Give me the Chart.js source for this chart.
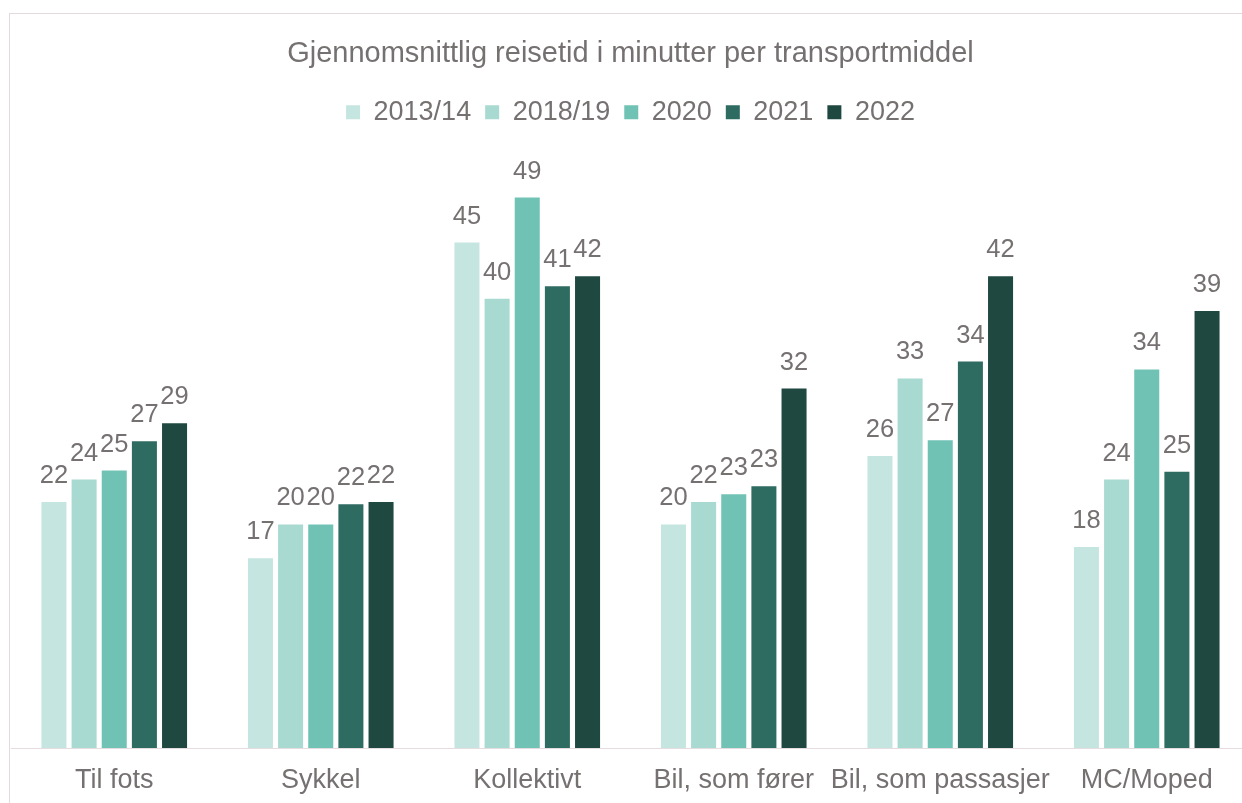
<!DOCTYPE html>
<html>
<head>
<meta charset="utf-8">
<script src="https://cdn.jsdelivr.net/npm/chart.js@4.4.0/dist/chart.umd.min.js"></script>
<style>
  html, body { margin: 0; padding: 0; background: #fff; overflow: hidden; }
  #frame {
    position: absolute; left: 9px; top: 13px;
    width: 1243px; height: 800px;
    border: 1px solid #e4d9dd;
  }
  #chart { display: block; }
</style>
</head>
<body>
<div id="frame"><canvas id="chart" width="1243" height="800"></canvas></div>
<script>
// data
const categories = ["Til fots", "Sykkel", "Kollektivt", "Bil, som fører", "Bil, som passasjer", "MC/Moped"];
const seriesNames = ["2013/14", "2018/19", "2020", "2021", "2022"];
const seriesColors = ["#c5e6e0", "#a8dad2", "#70c3b4", "#2e6b60", "#1f4841"];
const v2013 = [21.9, 16.9, 45.0, 19.9, 26.0, 17.9];
const v2018 = [23.9, 19.9, 40.0, 21.9, 32.9, 23.9];
const v2020 = [24.7, 19.9, 49.0, 22.6, 27.4, 33.7];
const v2021 = [27.3, 21.7, 41.1, 23.3, 34.4, 24.6];
const v2022 = [28.9, 21.9, 42.0, 32.0, 42.0, 38.9];
const seriesValues = [v2013, v2018, v2020, v2021, v2022];

const textColor = "#767171";
const fontFamily = "'Liberation Sans', Arial, sans-serif";

// verdier over søylene
const valueLabels = {
  id: "valueLabels",
  afterDatasetsDraw(chart) {
    const ctx = chart.ctx;
    ctx.save();
    ctx.font = "25.5px " + fontFamily;
    ctx.fillStyle = textColor;
    ctx.textAlign = "center";
    ctx.textBaseline = "alphabetic";
    chart.data.datasets.forEach((ds, i) => {
      const meta = chart.getDatasetMeta(i);
      meta.data.forEach((bar, j) => {
        ctx.fillText(Math.round(ds.data[j]), bar.x, bar.y - 19);
      });
    });
    ctx.restore();
  },
};

new Chart(document.getElementById("chart"), {
  type: "bar",
  data: {
    labels: categories,
    datasets: seriesNames.map((name, i) => ({
      label: name,
      data: seriesValues[i],
      backgroundColor: seriesColors[i],
      categoryPercentage: 0.73,
      barPercentage: 0.83,
    })),
  },
  options: {
    responsive: false,
    animation: false,
    layout: { padding: { left: 1, right: 3, top: 0, bottom: 0 } },
    plugins: {
      title: {
        display: true,
        text: "Gjennomsnittlig reisetid i minutter per transportmiddel",
        color: textColor,
        font: { family: fontFamily, size: 29, weight: "normal" },
        padding: { top: 23, bottom: 13 },
      },
      legend: {
        display: true,
        position: "top",
        labels: {
          color: textColor,
          font: { family: fontFamily, size: 27 },
          boxWidth: 14,
          boxHeight: 14,
          padding: 14,
        },
      },
      tooltip: { enabled: false },
    },
    scales: {
      x: {
        grid: { display: false, drawTicks: false },
        border: { color: "#e6dbdf", width: 1 },
        ticks: {
          color: textColor,
          font: { family: fontFamily, size: 27 },
          padding: 16,
          maxRotation: 0,
          autoSkip: false,
        },
        afterFit: (scale) => {
          scale.height = 66;
        },
      },
      y: {
        display: false,
        min: 0,
        max: 54.5,
      },
    },
  },
  plugins: [valueLabels],
});
</script>
</body>
</html>
